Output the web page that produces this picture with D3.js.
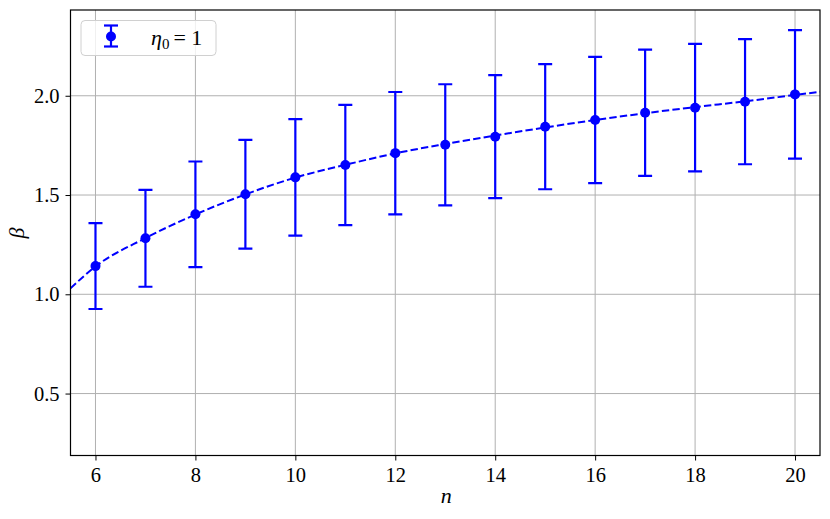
<!DOCTYPE html>
<html><head><meta charset="utf-8">
<script src="https://cdn.jsdelivr.net/npm/d3@7"></script>
<style>
body{margin:0;background:#fff;}
svg{display:block;}
text{font-family:"Liberation Serif","DejaVu Serif",serif;}
</style></head>
<body><svg id="chart" width="830" height="519"></svg>
<script>
const nValues   = [6,7,8,9,10,11,12,13,14,15,16,17,18,19,20];
const betaValues= [1.142,1.282,1.403,1.504,1.589,1.651,1.711,1.753,1.794,1.844,1.878,1.914,1.940,1.970,2.007];
const betaErr   = [0.216,0.244,0.266,0.274,0.293,0.303,0.308,0.305,0.310,0.315,0.318,0.318,0.321,0.315,0.324];
const fitN      = [5.5,6,7,8,9,10,11,12,13,14,15,16,17,18,19,20,20.5];
const fitBeta   = [1.030,1.140,1.283,1.402,1.503,1.588,1.652,1.710,1.757,1.800,1.840,1.878,1.912,1.943,1.972,2.004,2.020];
const xTicks    = [6,8,10,12,14,16,18,20];
const yTicks    = [0.5,1.0,1.5,2.0];
const legendLabel = "η";

const svg = d3.select("#chart");
const L=70.5, R=820, T=10, B=455.5;
const x = d3.scaleLinear().domain([5.5,20.5]).range([L,R]);
const y = d3.scaleLinear().domain([0.188,2.432]).range([B,T]);
const blue = "#0000ff";

// grid
const g = svg.append("g");
g.selectAll(".gx").data(xTicks).join("line")
  .attr("x1",d=>x(d)).attr("x2",d=>x(d)).attr("y1",T).attr("y2",B)
  .attr("stroke","#b0b0b0").attr("stroke-width",1);
g.selectAll(".gy").data(yTicks).join("line")
  .attr("y1",d=>y(d)).attr("y2",d=>y(d)).attr("x1",L).attr("x2",R)
  .attr("stroke","#b0b0b0").attr("stroke-width",1);

// axes
const xAxis = d3.axisBottom(x).tickValues(xTicks).tickFormat(d3.format("d")).tickSize(5).tickPadding(7);
const yAxis = d3.axisLeft(y).tickValues(yTicks).tickFormat(d3.format(".1f")).tickSize(5).tickPadding(6);
const gx = svg.append("g").attr("transform",`translate(0,${B})`).call(xAxis);
const gy = svg.append("g").attr("transform",`translate(${L},0)`).call(yAxis);
[gx,gy].forEach(a=>{
  a.select(".domain").remove();
  a.selectAll(".tick line").attr("stroke","#000").attr("stroke-width",1);
  a.selectAll(".tick text").attr("font-size",20.5).attr("fill","#000")
   .attr("font-family",'"Liberation Serif","DejaVu Serif",serif');
});

// clip
svg.append("clipPath").attr("id","clip").append("rect").attr("x",L).attr("y",T).attr("width",R-L).attr("height",B-T);
const plot = svg.append("g").attr("clip-path","url(#clip)");

// fit curve
const line = d3.line().x((d,i)=>x(fitN[i])).y(d=>y(d)).curve(d3.curveMonotoneX);
plot.append("path").datum(fitBeta).attr("d",line).attr("fill","none")
  .attr("stroke",blue).attr("stroke-width",2).attr("stroke-dasharray","7.4,3.2");

// error bars
const pts = nValues.map((n,i)=>({n,b:betaValues[i],e:betaErr[i]}));
const eb = plot.append("g");
eb.selectAll(".v").data(pts).join("line")
  .attr("x1",d=>x(d.n)).attr("x2",d=>x(d.n)).attr("y1",d=>y(d.b-d.e)).attr("y2",d=>y(d.b+d.e))
  .attr("stroke",blue).attr("stroke-width",2.2);
["lo","hi"].forEach(k=>{
  eb.selectAll(".c"+k).data(pts).join("line")
    .attr("x1",d=>x(d.n)-7).attr("x2",d=>x(d.n)+7)
    .attr("y1",d=>y(k==="lo"?d.b-d.e:d.b+d.e)).attr("y2",d=>y(k==="lo"?d.b-d.e:d.b+d.e))
    .attr("stroke",blue).attr("stroke-width",2.2);
});
eb.selectAll("circle").data(pts).join("circle")
  .attr("cx",d=>x(d.n)).attr("cy",d=>y(d.b)).attr("r",5).attr("fill",blue);

// frame
svg.append("rect").attr("x",L).attr("y",T).attr("width",R-L).attr("height",B-T)
  .attr("fill","none").attr("stroke","#000").attr("stroke-width",1.2);

// labels
svg.append("text").attr("x",(L+R)/2+1).attr("y",503).attr("text-anchor","middle")
  .attr("font-size",22).attr("font-style","italic").text("n");
svg.append("text").attr("transform","translate(24,233) rotate(-90)").attr("text-anchor","middle")
  .attr("font-size",22).attr("font-style","italic").text("β");

// legend
const lg = svg.append("g");
lg.append("rect").attr("x",81).attr("y",20.5).attr("width",135).attr("height",35).attr("rx",4)
  .attr("fill","#fff").attr("fill-opacity",0.8).attr("stroke","#d0d0d0").attr("stroke-width",1);
const lx=111, ly=36.5;
lg.append("line").attr("x1",lx).attr("x2",lx).attr("y1",ly-11).attr("y2",ly+10).attr("stroke",blue).attr("stroke-width",2.2);
lg.append("line").attr("x1",lx-7).attr("x2",lx+7).attr("y1",ly-11).attr("y2",ly-11).attr("stroke",blue).attr("stroke-width",2.2);
lg.append("line").attr("x1",lx-7).attr("x2",lx+7).attr("y1",ly+10).attr("y2",ly+10).attr("stroke",blue).attr("stroke-width",2.2);
lg.append("circle").attr("cx",lx).attr("cy",ly).attr("r",5).attr("fill",blue);
const lt = lg.append("text").attr("x",151).attr("y",45).attr("font-size",22);
lt.append("tspan").attr("font-style","italic").text(legendLabel);
lt.append("tspan").attr("font-size",15).attr("dy",4).text("0");
lt.append("tspan").attr("dy",-4).attr("dx",4).text("= 1");
</script></body></html>
